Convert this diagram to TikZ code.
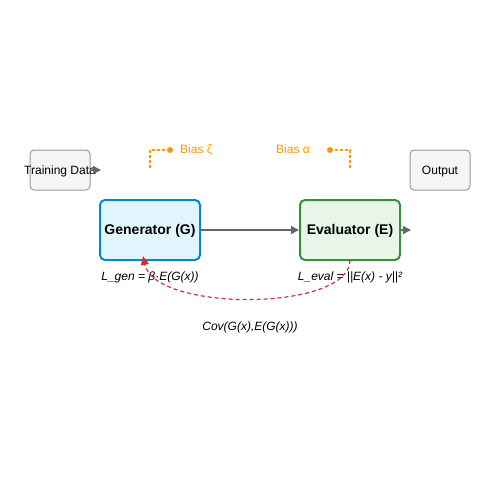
\documentclass[tikz,border=0pt]{standalone}
\usepackage{fontspec}
\setmainfont{Liberation Sans}
\usetikzlibrary{arrows.meta}
\definecolor{genline}{HTML}{0288D1}
\definecolor{genfill}{HTML}{E1F5FE}
\definecolor{evalline}{HTML}{388E3C}
\definecolor{evalfill}{HTML}{E8F5E9}
\definecolor{ioline}{HTML}{999999}
\definecolor{iofill}{HTML}{F5F5F5}
\definecolor{flowgray}{HTML}{666666}
\definecolor{biasorange}{HTML}{FF9800}
\definecolor{covred}{HTML}{D32F2F}
\tikzset{
	txt/.style={inner sep=0pt,text height=0.95em,text depth=0pt},
	iobox/.style={draw=ioline,fill=iofill,line width=1pt,rounded corners=4pt,minimum width=60pt,minimum height=40pt,txt,font=\fontsize{12}{14}\selectfont},
	stagebox/.style={line width=2pt,rounded corners=5pt,minimum width=100pt,minimum height=60pt,txt,font=\fontsize{14}{16}\selectfont\bfseries},
	flow/.style={draw=flowgray,line width=1.5pt,-{Triangle[length=8pt,width=8pt]}},
	bias/.style={draw=biasorange,line width=1.5pt,dash pattern=on 3pt off 2pt},
	lbl/.style={font=\fontsize{12}{14}\selectfont\itshape,txt},
}
\begin{document}
		\begin{tikzpicture}[x=1pt,y=-1pt]
			\useasboundingbox (0,0) rectangle (500,500);
			\node[iobox] (train) at (60,170) {};
			\node[iobox] (out) at (440,170) {Output};
			\node[stagebox,draw=genline,fill=genfill] (gen) at (150,230) {Generator (G)};
			\node[stagebox,draw=evalline,fill=evalfill] (eval) at (350,230) {Evaluator (E)};
			\node[font=\fontsize{12}{14}\selectfont,txt] (traintext) at (60,170) {Training Data};
			\coordinate (trainend) at (101,170);
			\coordinate (evalend) at (411,230);
			\draw[flow] (train.east) -- (trainend);
			\draw[flow] (gen.east) -- (eval.west);
			\draw[flow] (eval.east) -- (evalend);
			% bias terms
			\coordinate (zetafoot) at (150,168);
			\coordinate (zetadot) at (170,150);
			\coordinate (alphadot) at (330,150);
			\coordinate (alphafoot) at (350,168);
			\draw[bias] (zetafoot) |- (zetadot);
			\draw[bias] (alphadot) -| (alphafoot);
			\fill[biasorange] (zetadot) circle (3pt);
			\fill[biasorange] (alphadot) circle (3pt);
			\node[font=\fontsize{12}{14}\selectfont,text=biasorange,anchor=west,txt] (zeta) at (180,149) {Bias ζ};
			\node[font=\fontsize{12}{14}\selectfont,text=biasorange,anchor=east,txt] (alpha) at (310,149) {Bias α};
			% losses
			\node[lbl] (lgen) at (150,276) {L\_gen = β·E(G(x))};
			\node[lbl] (leval) at (350,276) {L\_eval = ||E(x) - y||²};
			\coordinate (covstart) at (350,260);
			\coordinate (covend) at (143,256);
			\draw[covred,line width=1.2pt,dash pattern=on 4pt off 3pt,-{Triangle[length=9pt,width=8pt]}] (covstart) .. controls (350,312) and (155,312) .. (covend);
			\node[lbl] (cov) at (250,326) {Cov(G(x),E(G(x)))};
		\end{tikzpicture}
\end{document}
